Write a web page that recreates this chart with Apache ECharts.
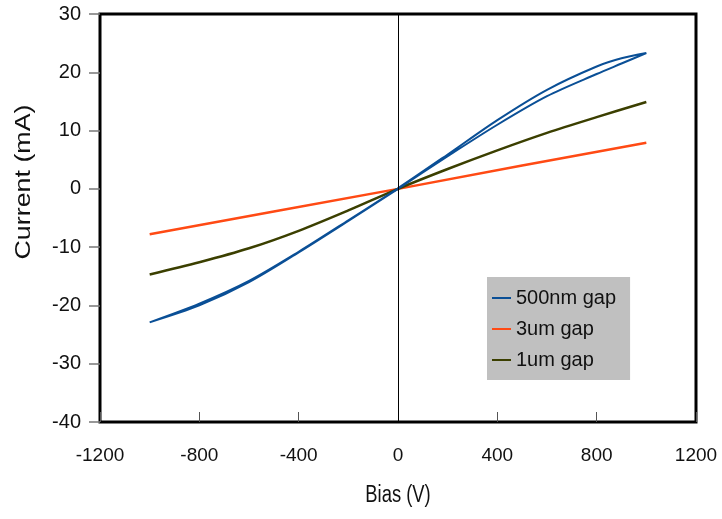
<!DOCTYPE html>
<html>
<head>
<meta charset="utf-8">
<script src="https://cdn.jsdelivr.net/npm/echarts@6/dist/echarts.min.js"></script>
<style>
  html, body { margin: 0; padding: 0; background: #fff; }
  #chart { width: 722px; height: 519px; }
</style>
</head>
<body>
<div id="chart"></div>
<script>
// I-V sweeps for three electrode gaps (bias in V, current in mA)
const gap500Bias = [-1000, -800, -600, -400, -200, 0, 200, 400, 600, 800, 900, 1000,
                    900, 800, 600, 400, 200, 0, -200, -400, -600, -800, -1000];
const gap500Current = [-22.9, -20.0, -16.0, -10.9, -5.5, 0, 5.6, 11.0, 15.9, 19.7, 21.5, 23.3,
                       22.4, 21.0, 17.0, 11.8, 5.9, 0.1, -5.4, -10.8, -15.8, -19.7, -22.9];

const gap3Bias = [-1000, -500, 0, 500, 1000];
const gap3Current = [-7.8, -3.9, 0, 4.0, 7.9];

const gap1Bias = [-1000, -800, -600, -400, -200, 0, 200, 400, 600, 800, 1000];
const gap1Current = [-14.7, -12.6, -10.2, -7.2, -3.7, 0, 3.4, 6.6, 9.6, 12.3, 14.9];

const seriesNames = ['500nm gap', '3um gap', '1um gap'];
const seriesColors = ['#0a4f96', '#ff4a14', '#3b3f00'];

const pairs = (xs, ys) => xs.map((x, i) => [x, ys[i]]);

const chart = echarts.init(document.getElementById('chart'));
chart.setOption({
  animation: false,
  backgroundColor: '#ffffff',
  grid: {
    left: 100, right: 26, top: 14, bottom: 97,
    show: true, borderColor: '#000', borderWidth: 3, backgroundColor: 'transparent'
  },
  legend: {
    orient: 'vertical',
    left: 487, top: 277,
    padding: [10, 14, 9, 5],
    backgroundColor: '#c0c0c0',
    itemGap: 9,
    itemWidth: 19,
    itemHeight: 2,
    icon: 'rect',
    textStyle: { fontFamily: 'Liberation Sans, Arial', fontSize: 20, color: '#111', lineHeight: 22 },
    data: seriesNames
  },
  xAxis: {
    type: 'value',
    min: -1200, max: 1200, interval: 400,
    axisLine: { show: false, onZero: false },
    axisTick: { show: true, inside: true, length: 10, lineStyle: { color: '#555', width: 1 } },
    axisLabel: {
      margin: 24,
      fontFamily: 'Liberation Sans, Arial', fontSize: 19, color: '#111',
      formatter: v => String(v)
    },
    splitLine: { show: false }
  },
  yAxis: {
    type: 'value',
    min: -40, max: 30, interval: 10,
    axisLine: { show: false, onZero: false },
    axisTick: { show: true, inside: false, length: 11, lineStyle: { color: '#777', width: 1.5 } },
    axisLabel: { margin: 19, fontFamily: 'Liberation Sans, Arial', fontSize: 20, color: '#111' },
    splitLine: { show: false }
  },
  graphic: [
    {
      type: 'text',
      x: 24, y: 182,
      rotation: Math.PI / 2,
      scaleX: 1.22,
      style: {
        text: 'Current (mA)',
        fontFamily: 'Liberation Sans, Arial',
        fontSize: 22,
        fill: '#111',
        align: 'center',
        verticalAlign: 'middle'
      }
    },
    {
      type: 'text',
      x: 398, y: 496,
      scaleX: 0.8,
      style: {
        text: 'Bias (V)',
        fontFamily: 'Liberation Sans, Arial',
        fontSize: 23,
        fill: '#111',
        align: 'center',
        verticalAlign: 'middle'
      }
    }
  ],
  series: [
    {
      name: seriesNames[0],
      type: 'line',
      data: pairs(gap500Bias, gap500Current),
      smooth: 0.3,
      showSymbol: false,
      color: seriesColors[0],
      lineStyle: { width: 2, color: seriesColors[0] },
      z: 4
    },
    {
      name: seriesNames[1],
      type: 'line',
      data: pairs(gap3Bias, gap3Current),
      showSymbol: false,
      color: seriesColors[1],
      lineStyle: { width: 2.5, color: seriesColors[1] },
      z: 3,
      markLine: {
        silent: true,
        symbol: ['none', 'none'],
        label: { show: false },
        lineStyle: { color: '#000', width: 1, type: 'solid' },
        data: [{ xAxis: 0 }]
      }
    },
    {
      name: seriesNames[2],
      type: 'line',
      data: pairs(gap1Bias, gap1Current),
      smooth: 0.3,
      showSymbol: false,
      color: seriesColors[2],
      lineStyle: { width: 2.5, color: seriesColors[2] },
      z: 3
    }
  ]
});
</script>
</body>
</html>
